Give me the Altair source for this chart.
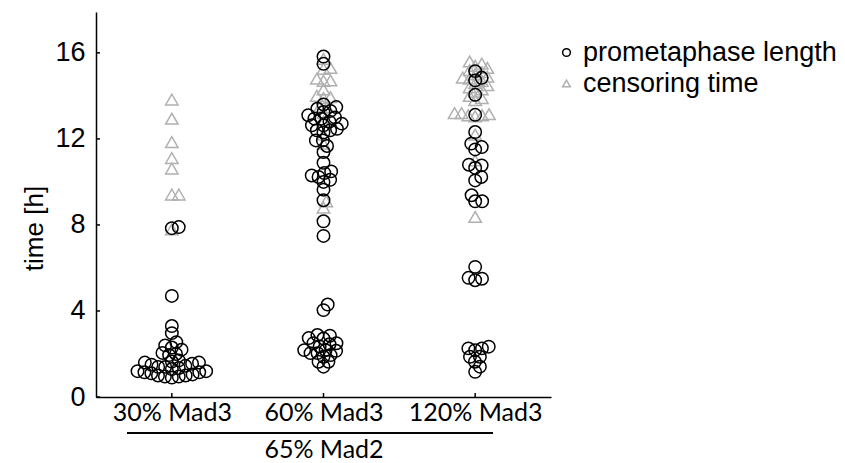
import math

import altair as alt
import numpy as np
import pandas as pd

# Conditions (Mad3 level, all at 65% Mad2)
groups = ["30% Mad3", "60% Mad3", "120% Mad3"]

# Prometaphase length per cell [h]
prometaphase_30 = [7.9, 7.85, 4.7, 3.3, 2.97, 2.55, 2.4, 2.3, 2.2, 2.05, 2.0, 1.95,
                   1.7, 1.65, 1.6, 1.6, 1.55, 1.5, 1.45, 1.4, 1.4, 1.35, 1.3, 1.2,
                   1.2, 1.15, 1.15, 1.1, 1.05, 1.0, 1.0, 0.95, 0.95, 0.9]
prometaphase_60 = [15.83, 15.49, 13.6, 13.48, 13.4, 13.3, 13.25, 13.1, 13.0, 12.94,
                   12.94, 12.8, 12.71, 12.63, 12.63, 12.47, 12.4, 12.4, 12.3, 11.93,
                   11.93, 11.67, 11.39, 10.89, 10.49, 10.41, 10.3, 10.23, 10.1, 10.0,
                   9.64, 9.15, 8.17, 7.49,
                   4.30, 4.04, 2.88, 2.85, 2.74, 2.72, 2.5, 2.5, 2.45, 2.35, 2.18,
                   2.18, 2.15, 2.04, 2.04, 1.95, 1.87, 1.64, 1.64, 1.41]
prometaphase_120 = [15.15, 14.84, 14.72, 14.05, 13.12, 12.32, 11.78, 11.62, 11.51,
                    10.8, 10.77, 10.65, 10.23, 10.07, 9.38, 9.1, 9.1, 6.05, 5.54,
                    5.5, 5.43, 2.34, 2.26, 2.26, 2.18, 1.87, 1.87, 1.64, 1.41, 1.17]

# Censoring time per cell [h]
censoring_30 = [13.83, 12.94, 11.85, 11.11, 10.62, 9.41, 9.41, 7.8]
censoring_60 = [15.72, 15.3, 15.26, 14.8, 14.72, 14.7, 14.3, 14.0, 13.94, 13.9,
                13.5, 13.48, 13.2, 12.8, 12.2, 11.78, 9.1, 8.8]
censoring_120 = [15.6, 15.5, 15.4, 15.3, 15.2, 15.1, 15.0, 14.9, 14.85, 14.8, 14.7,
                 14.6, 14.5, 14.4, 14.3, 14.2, 14.0, 13.9, 13.8, 13.2, 13.2, 13.15,
                 13.1, 13.1, 13.05, 12.2, 11.0, 8.37]

series = ["prometaphase length", "censoring time"]
y_ticks = [0, 4, 8, 12, 16]

W, H = 455, 385
Y_MAX = 17.9
X_DOMAIN = [0.5, 3.5]
PX_PER_H = H / Y_MAX
PX_PER_UNIT = W / (X_DOMAIN[1] - X_DOMAIN[0])


def swarm(values, spacing):
    """Beeswarm offsets (in x data units) so markers spread sideways."""
    ys = np.asarray(values, dtype=float) * PX_PER_H
    order = np.argsort(ys, kind="stable")
    xs = np.zeros(len(ys))
    placed = []
    for i in order:
        y = ys[i]
        cands = [0.0]
        for j in placed:
            dy = y - ys[j]
            if abs(dy) < spacing:
                dx = math.sqrt(spacing ** 2 - dy ** 2)
                cands += [xs[j] + dx, xs[j] - dx]
        cands.sort(key=abs)
        for c in cands:
            if all((c - xs[j]) ** 2 + (y - ys[j]) ** 2 >= spacing ** 2 - 1e-6 for j in placed):
                xs[i] = c
                break
        placed.append(i)
    return xs / PX_PER_UNIT


rows = []
# censoring markers first so the circles sit on top
for kind, lists in [("censoring time", [censoring_30, censoring_60, censoring_120]),
                    ("prometaphase length", [prometaphase_30, prometaphase_60, prometaphase_120])]:
    for gi, vals in enumerate(lists):
        offs = swarm(vals, 7.0)
        for v, o in zip(vals, offs):
            rows.append({"group": groups[gi], "xpos": gi + 1 + o, "time": v, "kind": kind})
df = pd.DataFrame(rows)

label_expr = " : ".join(f"datum.value == {i + 1} ? '{g}'" for i, g in enumerate(groups[:-1]))
label_expr += f" : '{groups[-1]}'"

x_scale = alt.Scale(domain=X_DOMAIN, nice=False, zero=False)
y_scale = alt.Scale(domain=[0, Y_MAX], nice=False, zero=False)

legend = alt.Legend(title=None, orient="none", legendX=457, legendY=27,
                    labelFont="Liberation Sans", labelFontSize=27, labelLimit=400,
                    labelColor="black", labelOffset=3, rowPadding=3,
                    symbolSize=60, symbolStrokeWidth=1.5, padding=0)

points = alt.Chart(df).mark_point(filled=False, opacity=1, strokeWidth=1.5, size=155).encode(
    x=alt.X("xpos:Q", scale=x_scale,
            axis=alt.Axis(values=[1, 2, 3], labelExpr=label_expr, ticks=False, grid=False,
                          domainColor="black", domainWidth=1.5,
                          labelFont="Lato", labelFontSize=25, labelColor="black",
                          labelPadding=3, labelFlush=False,
                          title="65% Mad2", titleFont="Lato", titleFontSize=25,
                          titleFontWeight="normal", titleColor="black", titlePadding=12)),
    y=alt.Y("time:Q", scale=y_scale,
            axis=alt.Axis(values=y_ticks, ticks=False, grid=False,
                          domainColor="black", domainWidth=1.5,
                          labelFont="Liberation Sans", labelFontSize=27, labelColor="black",
                          labelPadding=11,
                          title="time [h]", titleFont="Liberation Sans", titleFontSize=26,
                          titleFontWeight="normal", titleColor="black",
                          titleX=-62, titleY=216, titleAlign="center",
                          titleBaseline="middle", titleAngle=270)),
    color=alt.Color("kind:N",
                    scale=alt.Scale(domain=series, range=["black", "#b0b0b0"]),
                    legend=legend),
    shape=alt.Shape("kind:N",
                    scale=alt.Scale(domain=series, range=["circle", "triangle-up"]),
                    legend=legend),
)

# inward tick marks on both axes
y_tick_df = pd.DataFrame({"time": y_ticks})
y_tick_marks = alt.Chart(y_tick_df).mark_rule(color="black", strokeWidth=1.5).encode(
    y=alt.Y("time:Q", scale=y_scale),
    x=alt.value(0), x2=alt.value(4),
)
x_tick_df = pd.DataFrame({"xpos": [1, 2, 3]})
x_tick_marks = alt.Chart(x_tick_df).mark_rule(color="black", strokeWidth=1.5).encode(
    x=alt.X("xpos:Q", scale=x_scale),
    y=alt.value(H), y2=alt.value(H - 4),
)

# bracket line over the shared Mad2 condition
bracket = alt.Chart(x_tick_df).mark_rule(color="black", strokeWidth=1.5).encode(
    x=alt.value(31), x2=alt.value(397), y=alt.value(H + 36),
)

chart = alt.layer(points, y_tick_marks, x_tick_marks, bracket).properties(
    width=W, height=H,
    autosize=alt.AutoSizeParams(type="none"),
    padding={"left": 96, "top": 12, "right": 845 - 96 - W, "bottom": 463 - 12 - H},
).configure_view(stroke=None)

chart.save("out.html", embed_options={"renderer": "svg", "actions": False})
